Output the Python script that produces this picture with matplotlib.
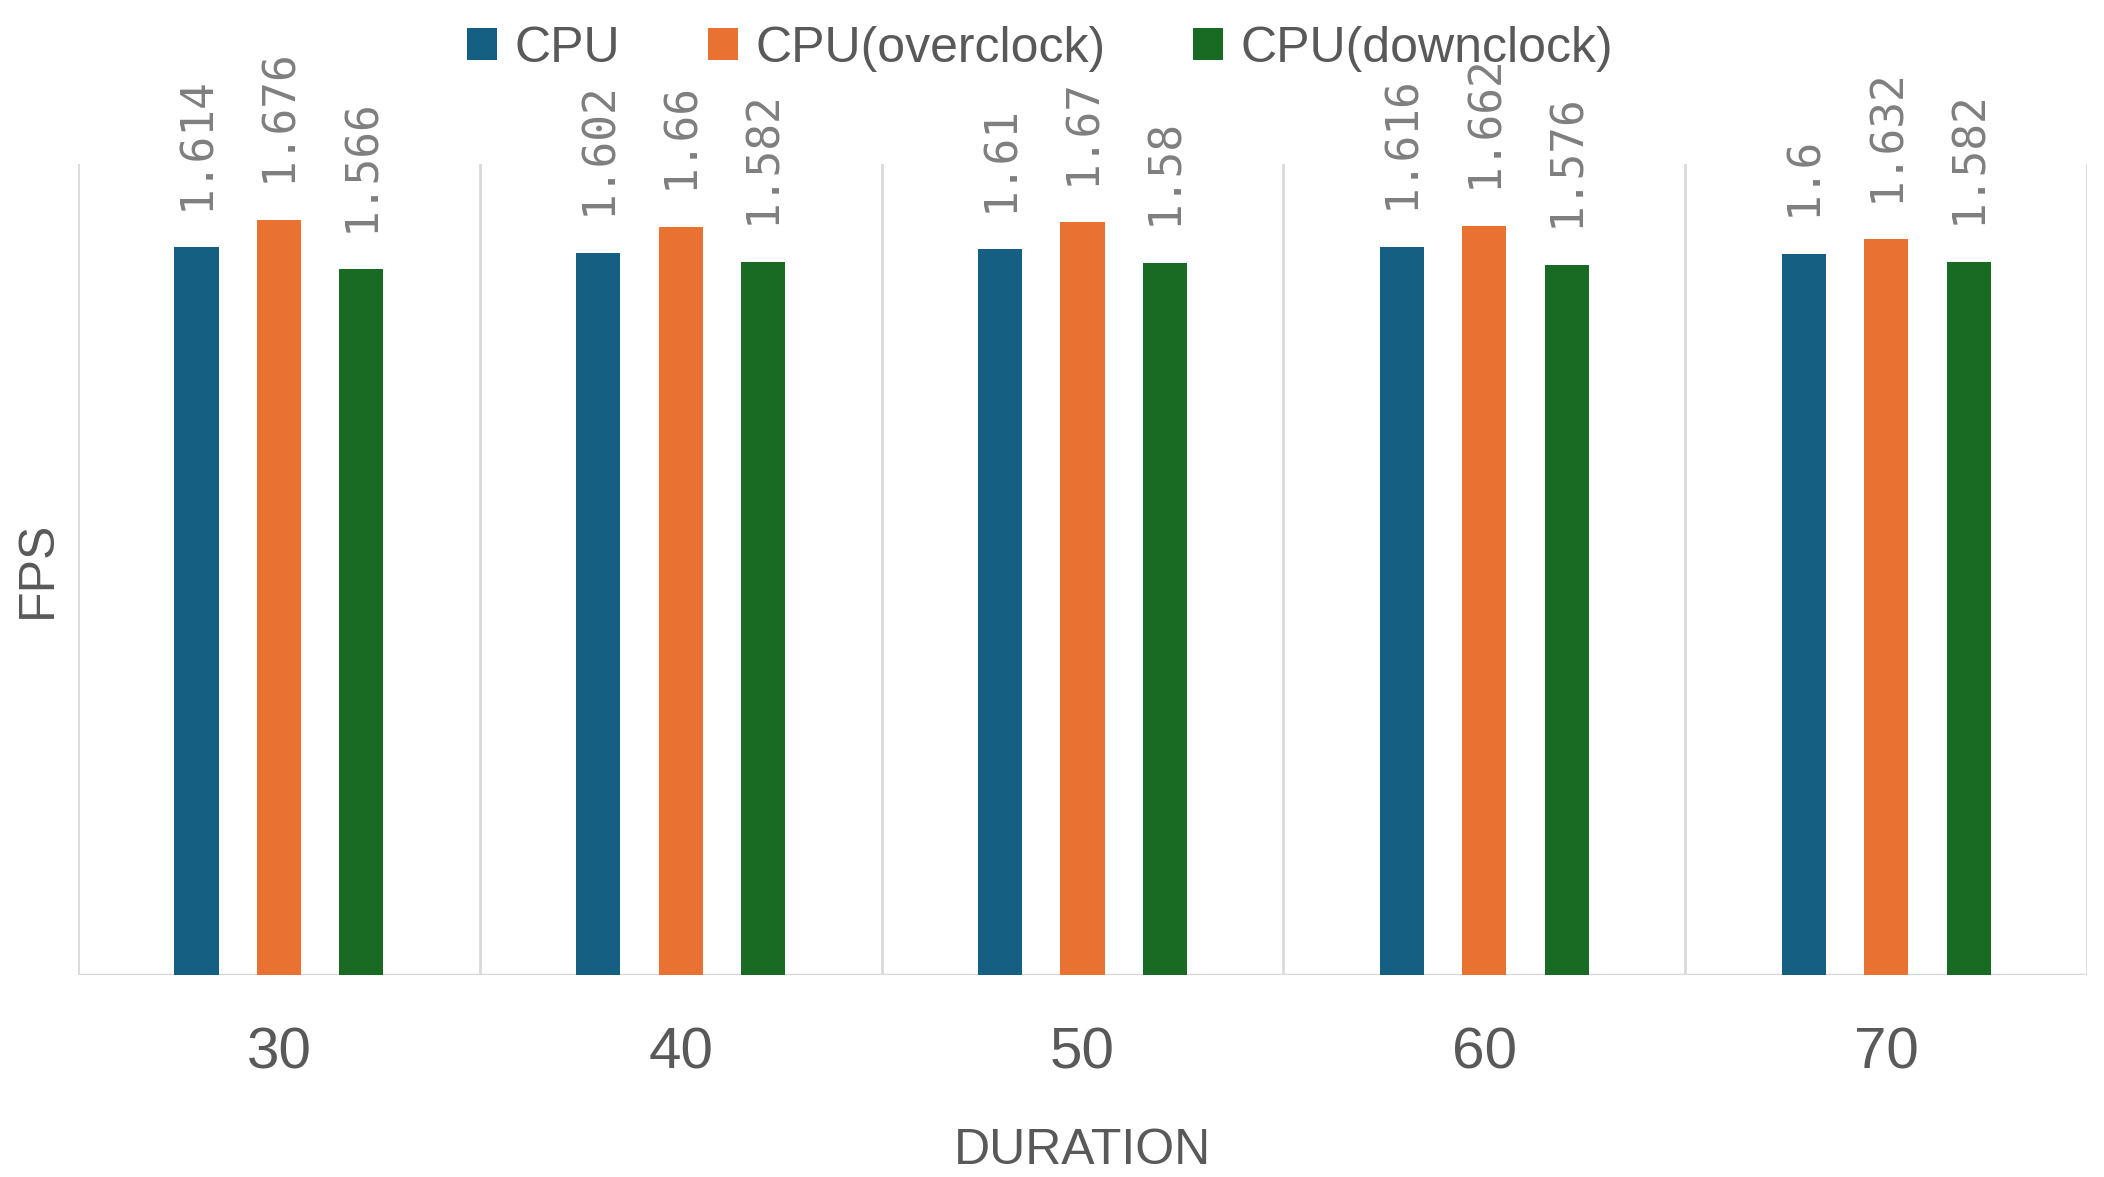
import matplotlib.pyplot as plt
import numpy as np

# Data
durations = ['30', '40', '50', '60', '70']
cpu = [1.614, 1.602, 1.61, 1.616, 1.6]
cpu_over = [1.676, 1.66, 1.67, 1.662, 1.632]
cpu_down = [1.566, 1.582, 1.58, 1.576, 1.582]
series_names = ['CPU', 'CPU(overclock)', 'CPU(downclock)']
colors = ['#156082', '#E97132', '#196B24']

narrow = ['Liberation Sans Narrow', 'Liberation Sans', 'DejaVu Sans']
text_gray = '#595959'
grid_gray = '#d9d9d9'

fig = plt.figure(figsize=(21.04, 11.77), dpi=100)
ax = fig.add_axes([0.037, 0.1712, 0.955, 0.6898])

x = np.arange(len(durations))
offset = 0.205
width = 0.11

for i, (vals, name, col) in enumerate(zip([cpu, cpu_over, cpu_down], series_names, colors)):
    pos = x + (i - 1) * offset
    bars = ax.bar(pos, vals, width, color=col, label=name, zorder=3)
    for b, v in zip(bars, vals):
        ax.annotate(f'{v:g}', (b.get_x() + b.get_width() / 2, v),
                    xytext=(0, 27), textcoords='offset points',
                    rotation=90, ha='center', va='bottom',
                    fontsize=32, color='#7f7f7f', family='DejaVu Sans Mono')

# category separators and baseline
for k in range(len(durations) + 1):
    ax.axvline(k - 0.5, ymin=0, ymax=1, color=grid_gray, lw=2, zorder=1)
ax.axhline(0, color=grid_gray, lw=2.5, zorder=2)

ax.set_xlim(-0.5, len(durations) - 0.5)
ax.set_ylim(0, 1.8)
for s in ax.spines.values():
    s.set_visible(False)
ax.set_yticks([])
ax.set_xticks(x)
ax.set_xticklabels(durations, fontsize=42, color=text_gray, family='Liberation Sans')
ax.tick_params(axis='x', length=0, pad=37)

ax.set_xlabel('DURATION', fontsize=36, color=text_gray, family=narrow, labelpad=34)
ax.set_ylabel('FPS', fontsize=36, color=text_gray, family=narrow, labelpad=12)

leg = ax.legend(loc='upper center', bbox_to_anchor=(0.479, 1.225), ncol=3, frameon=False,
                prop={'family': narrow, 'size': 36}, handlelength=0.6, handleheight=0.6,
                handletextpad=0.35, columnspacing=1.75)
for t in leg.get_texts():
    t.set_color(text_gray)

fig.savefig('out.png', dpi=100, facecolor='white')
